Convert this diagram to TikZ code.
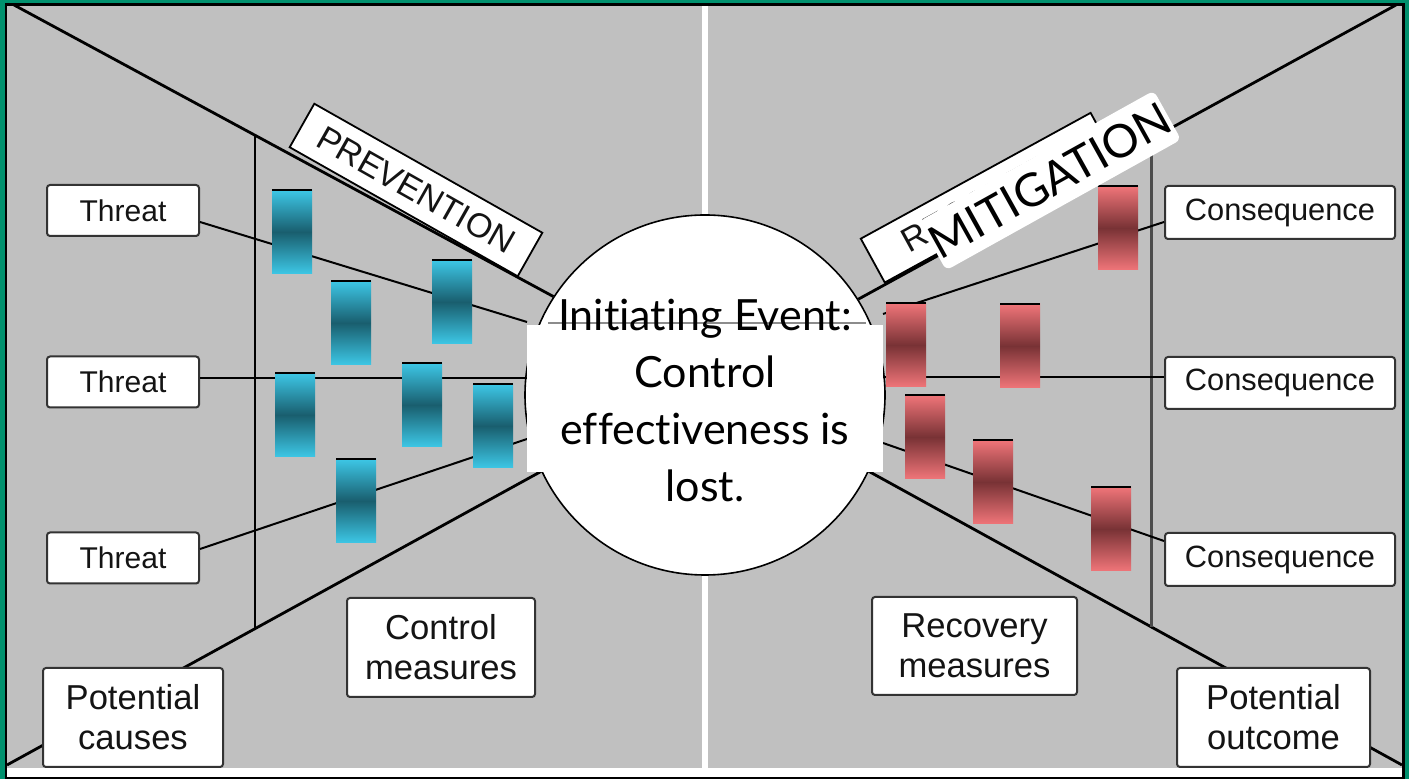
\documentclass[tikz,border=0pt]{standalone}
\usepackage{fontspec}
\setmainfont{Liberation Sans}
\newfontfamily\gill[Ligatures={NoCommon}]{Lato}
\usetikzlibrary{calc}
\definecolor{frameG}{HTML}{00916E}
\definecolor{bgG}{HTML}{C0C0C0}
\definecolor{cyanL}{HTML}{3DC7E6}
\definecolor{cyanD}{HTML}{195E6E}
\definecolor{redL}{HTML}{F07579}
\definecolor{redD}{HTML}{783235}
\definecolor{boxB}{HTML}{333333}
\definecolor{txt}{HTML}{141414}
\begin{document}
\begin{tikzpicture}[x=0.5pt,y=-0.5pt,
  lbl/.style={draw=boxB, line width=1pt, fill=white, rounded corners=1.5pt, align=center, inner sep=0pt, text=txt, font=\fontsize{15}{18}\selectfont},
  big/.style={lbl, font=\fontsize{17.3}{20}\selectfont},
  bar/.style={minimum width=20pt, minimum height=42pt, inner sep=0pt,
    path picture={\draw[black, line width=1.2pt] (path picture bounding box.north west) -- (path picture bounding box.north east);}},
  bbar/.style={bar, top color=cyanL, bottom color=cyanL, middle color=cyanD},
  rbar/.style={bar, top color=redL, bottom color=redL, middle color=redD},
  link/.style={line width=1pt, black},
  diag/.style={line width=1.4pt, black},
  tag/.style={draw=black, line width=0.9pt, fill=white, minimum width=131pt, minimum height=25pt, inner sep=0pt, text=txt, font=\fontsize{17}{20}\selectfont},
]
\useasboundingbox (0,0) rectangle (1409,779);
% frame and background
\fill[frameG] (0,0) rectangle (1409,779);
\fill[black] (5,3) rectangle (1405,779);
\fill[white] (7,6) rectangle (1402,777);
\fill[bgG] (7,6) rectangle (1402,768);
\fill[white] (702,6) rectangle (708,768);

% central circle
\node[circle, draw=black, line width=0.8pt, fill=white, minimum size=180pt, inner sep=0pt] (circ) at (705,395) {};

% outer coordinates
\coordinate (tlc) at (14,5);
\coordinate (blc) at (7,765);
\coordinate (trc) at (1396,5);
\coordinate (brc) at (1402,765);
\draw[diag] (tlc) -- (circ.147);
\draw[diag] (blc) -- (circ.205);
\draw[diag] (trc) -- (circ.32);
\draw[diag] (brc) -- (circ.335);

% barrier frames
\coordinate (vlt) at (255,135.5);
\coordinate (vlb) at (255,628);
\coordinate (vrt) at (1151,139);
\coordinate (vrb) at (1151,627);
\draw[line width=1pt, black] (vlt) -- (vlb);
\draw[line width=1.5pt, black!70] (vrt) -- (vrb);

% threat / consequence boxes
\node[lbl, minimum width=76pt, minimum height=25.5pt] (t1) at (123,210.5) {Threat};
\node[lbl, minimum width=76pt, minimum height=25.5pt] (t2) at (123,382) {Threat};
\node[lbl, minimum width=76pt, minimum height=25.5pt] (t3) at (123,558) {Threat};
\node[lbl, minimum width=115pt, minimum height=26.5pt, font=\fontsize{15.4}{18}\selectfont] (c1) at (1280,212.5) {Consequence};
\node[lbl, minimum width=115pt, minimum height=26pt, font=\fontsize{15.4}{18}\selectfont] (c2) at (1280,383) {Consequence};
\node[lbl, minimum width=115pt, minimum height=26.5pt, font=\fontsize{15.4}{18}\selectfont] (c3) at (1280,559.5) {Consequence};

% line end points at the event
\coordinate (e1) at (527,322);
\coordinate (e2) at (527,378);
\coordinate (e3) at (527,439);
\coordinate (f1) at (883,314);
\coordinate (f2) at (883,377);
\coordinate (f3) at (883,443);
\draw[link] ($(t1.east)+(0,11.5)$) -- (e1);
\draw[link] ($(t2.east)+(0,-4)$) -- (e2);
\draw[link] ($(t3.east)+(0,-9)$) -- (e3);
\draw[link] (f1) -- ($(c1.west)+(0,9.5)$);
\draw[link] (f2) -- ($(c2.west)+(0,-6)$);
\draw[link] (f3) -- ($(c3.west)+(0,-18.5)$);

% event box and text
\node[fill=white, minimum width=178pt, minimum height=73.5pt, inner sep=0pt] (ev) at (705,398.5) {};
\draw[line width=0.6pt, black!45] (548,323) -- (866,323);
\node[font=\gill\fontsize{21.5}{28.5}\selectfont, align=center, inner sep=0pt, text=black] (evt) at (705,400) {Initiating Event:\\Control\\effectiveness is\\lost.};

% prevention barriers
\node[bbar] (b1) at (292,232) {};
\node[bbar] (b2) at (351,323) {};
\node[bbar] (b3) at (452,302) {};
\node[bbar] (b4) at (295,415) {};
\node[bbar] (b5) at (422,405) {};
\node[bbar] (b6) at (493,426) {};
\node[bbar] (b7) at (356,501) {};

% recovery barriers
\node[rbar] (r1) at (906,345) {};
\node[rbar] (r2) at (1020,346) {};
\node[rbar] (r3) at (925,437) {};
\node[rbar] (r4) at (993,482) {};
\node[rbar] (r5) at (1111,529) {};
\node[rbar] (r6) at (1118,228) {};

% other labels
\node[big, minimum width=90pt, minimum height=49.5pt] (pc) at (133,717.5) {Potential\\causes};
\node[big, minimum width=96.5pt, minimum height=49.5pt] (po) at (1273.5,717.5) {Potential\\outcome};
\node[big, minimum width=94pt, minimum height=49.5pt] (cm) at (441,647.5) {Control\\measures};
\node[big, minimum width=102.5pt, minimum height=49pt] (rm) at (974.5,646) {Recovery\\measures};

% rotated tags
\node[tag, rotate=-29.5] (prev) at (416,190) {PREVENTION};
\node[tag, rotate=28.7] (reco) at (987.7,197.7) {RECOVERY};
\node[fill=white, rounded corners=3pt, rotate=29.1, minimum width=131.5pt, minimum height=28pt, inner sep=0pt, text=black, font=\gill\fontsize{23}{26}\selectfont] (mit) at (1050,180.5) {MITIGATION};
\end{tikzpicture}
\end{document}
